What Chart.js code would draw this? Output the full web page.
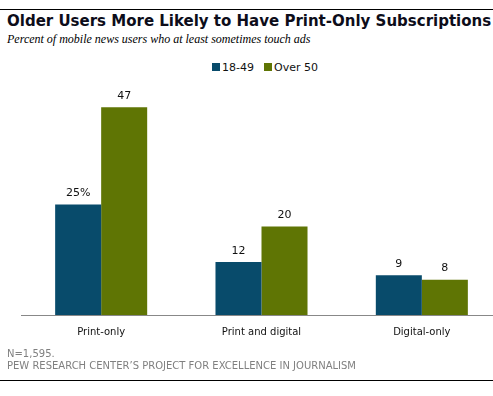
<!DOCTYPE html>
<html>
<head>
<meta charset="utf-8">
<script src="https://cdn.jsdelivr.net/npm/chart.js@4.4.1/dist/chart.umd.min.js"></script>
<style>
  html, body { margin: 0; padding: 0; background: #fff; overflow: hidden; }
  body { width: 493px; height: 396px; position: relative; }
  #wrap { position: absolute; left: 0; top: 0; width: 502px; height: 396px; }
  .rule { position: absolute; left: 0; width: 493px; height: 1px; background: #000; }
  #title { position: absolute; left: 7px; top: 12px; font: bold 15px "DejaVu Sans", Verdana, sans-serif; color: #0d0d1a; white-space: nowrap; }
  #sub { position: absolute; left: 7px; top: 32px; font: italic 12px "Liberation Serif", Georgia, serif; color: #000; white-space: nowrap; }
  #legend { position: absolute; left: 212px; top: 61px; font: 11px "DejaVu Sans", Verdana, sans-serif; color: #111; white-space: nowrap; }
  #legend span.sw { display: inline-block; width: 8px; height: 8px; margin-right: 2px; vertical-align: 0px; }
  #legend span.it { margin-right: 10px; }
  .foot { position: absolute; left: 7px; font: 10px "DejaVu Sans", Verdana, sans-serif; color: #808080; white-space: nowrap; }
</style>
</head>
<body>
<div class="rule" style="top:9px"></div>
<div id="title">Older Users More Likely to Have Print-Only Subscriptions</div>
<div id="sub">Percent of mobile news users who at least sometimes touch ads</div>
<div id="legend"></div>
<div id="wrap"><canvas id="chart"></canvas></div>
<div class="foot" style="top:348px">N=1,595.</div>
<div class="foot" style="top:360px">PEW RESEARCH CENTER’S PROJECT FOR EXCELLENCE IN JOURNALISM</div>
<div class="rule" style="top:380px"></div>
<script>
const categories = ['Print-only', 'Print and digital', 'Digital-only'];
const young = [25, 12, 9];
const older = [47, 20, 8];
const seriesNames = ['18-49', 'Over 50'];
const seriesColors = ['#084b6b', '#5f7504'];

// simple html legend, tighter spacing than the built-in one
document.getElementById('legend').innerHTML = seriesNames.map((n, i) =>
    '<span class="it"><span class="sw" style="background:' + seriesColors[i] + '"></span>' + n + '</span>'
).join('');

// labels above each bar, first one carries the % sign
const barLabels = {
    id: 'barLabels',
    afterDatasetsDraw(chart) {
        const ctx = chart.ctx;
        ctx.save();
        ctx.font = '11px "DejaVu Sans", Verdana, sans-serif';
        ctx.fillStyle = '#111';
        ctx.textAlign = 'center';
        ctx.textBaseline = 'middle';
        chart.data.datasets.forEach((ds, di) => {
            chart.getDatasetMeta(di).data.forEach((bar, i) => {
                let txt = String(ds.data[i]);
                if (di === 0 && i === 0) txt += '%';
                ctx.fillText(txt, bar.x, bar.y - 11);
            });
        });
        ctx.restore();
    }
};

var ctx = document.getElementById('chart').getContext('2d');
var myChart = new Chart(ctx, {
    type: 'bar',
    data: {
        labels: categories,
        datasets: [{
            label: seriesNames[0],
            data: young,
            backgroundColor: seriesColors[0],
        }, {
            label: seriesNames[1],
            data: older,
            backgroundColor: seriesColors[1],
        }]
    },
    options: {
        responsive: true,
        maintainAspectRatio: false,
        animation: false,
        categoryPercentage: 0.574,
        barPercentage: 1,
        layout: { padding: { left: 21, right: 0, top: 94, bottom: 51 } },
        plugins: {
            legend: { display: false },
            tooltip: { enabled: false }
        },
        scales: {
            x: {
                grid: { display: false },
                border: { display: true, color: '#888', width: 1 },
                ticks: {
                    color: '#111',
                    padding: 3,
                    font: { family: '"DejaVu Sans", Verdana, sans-serif', size: 10 }
                },
                afterFit: (s) => { s.height = 30; }
            },
            y: {
                display: false,
                min: 0,
                max: 50
            }
        }
    },
    plugins: [barLabels]
});
</script>
</body>
</html>
